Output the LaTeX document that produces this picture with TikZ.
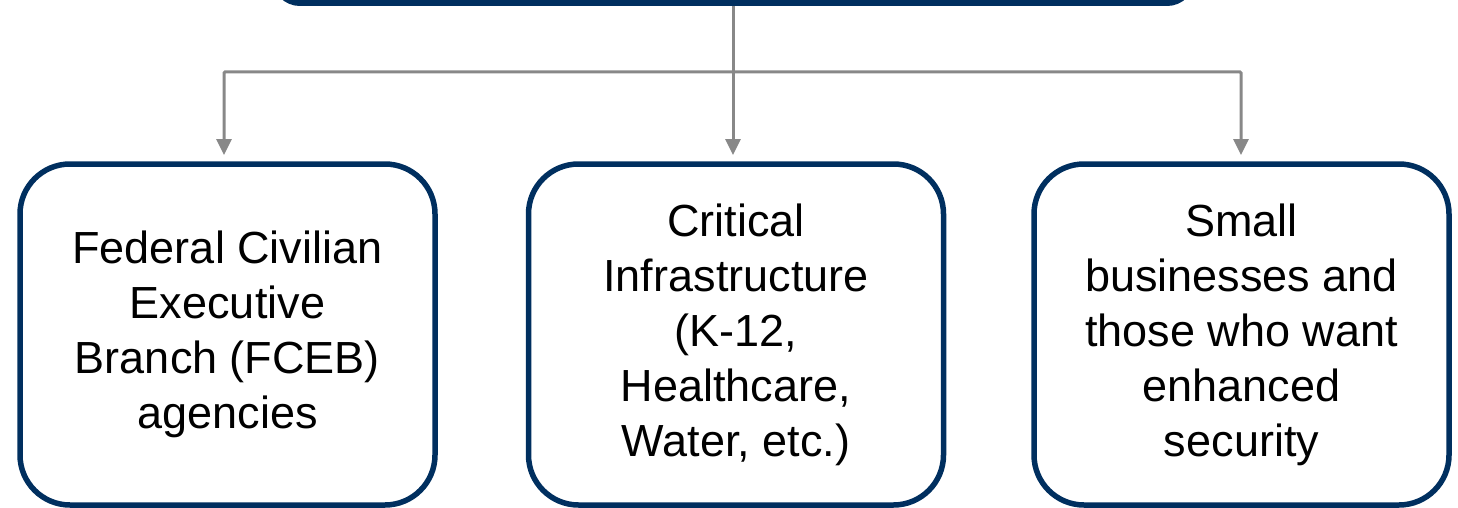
\documentclass[tikz,border=0pt]{standalone}
\usepackage{fontspec}
\setmainfont{Liberation Sans}
\usetikzlibrary{arrows.meta}
\definecolor{navy}{RGB}{0,47,95}
\definecolor{conngray}{RGB}{136,136,136}
\begin{document}
\begin{tikzpicture}[x=1pt,y=-1pt,
  catbox/.style={draw=navy, line width=5.5pt, rounded corners=50pt, fill=white,
    minimum width=415pt, minimum height=341pt, align=center,
    font=\fontsize{45}{55}\selectfont, inner sep=0pt},
  headbox/.style={draw=navy, line width=6pt, rounded corners=25pt, fill=white,
    minimum width=917pt, minimum height=200pt, inner sep=0pt},
  conn/.style={draw=conngray, line width=3pt},
  connarrow/.style={conn, -{Triangle[width=15pt,length=16pt]}, shorten >=9pt}
]
\useasboundingbox (0,0) rectangle (1458,508);
\clip (0,0) rectangle (1458,508);
\node[headbox] (top) at (733.5,-97) {};
\node[catbox] (left) at (227.5,334.5) {Federal Civilian\\Executive\\Branch (FCEB)\\agencies};
\node[catbox] (mid) at (736,334.5) {Critical\\Infrastructure\\(K-12,\\Healthcare,\\Water, etc.)};
\node[catbox] (right) at (1241.5,334.5) {Small\\businesses and\\those who want\\enhanced\\security};
\coordinate (bus) at (733,72);
\coordinate (lt) at (224,164);
\coordinate (mt) at (733,164);
\coordinate (rt) at (1241,164);
\draw[conn] (top.south -| bus) -- (bus);
\draw[connarrow] (bus) -- (mt);
\draw[connarrow, rounded corners=1pt] (bus) -| (lt);
\draw[connarrow, rounded corners=1pt] (bus) -| (rt);
\end{tikzpicture}
\end{document}
